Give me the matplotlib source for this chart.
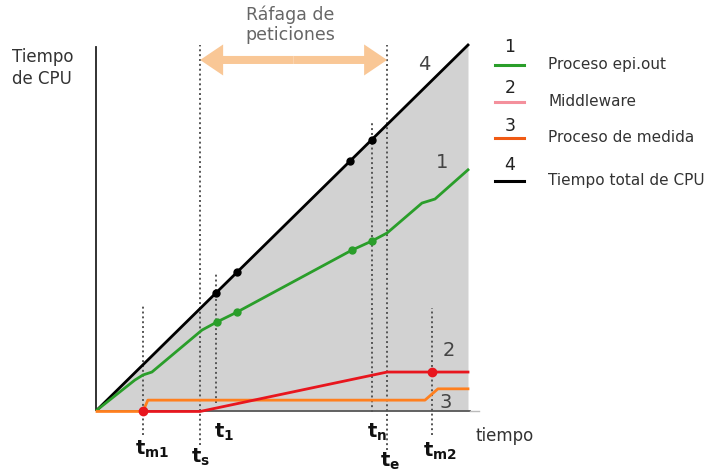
import matplotlib
matplotlib.use("Agg")
import matplotlib.pyplot as plt
from matplotlib.lines import Line2D
from matplotlib.patches import FancyArrow

# time marks along the axis
MARK_LABELS = ["m1", "s", "1", "n", "e", "m2"]
MARK_TIMES = [1.24, 2.78, 3.21, 7.41, 7.82, 9.03]

# 4: total CPU time
TOTAL_T = [0, 10]
TOTAL_CPU = [0, 10]
TOTAL_DOT_T = [3.21, 3.77, 6.82, 7.41]

# 1: epi.out process
EPI_T = [0, 1.02, 1.24, 1.48, 2.83, 3.23, 3.77, 6.87, 7.41, 7.82, 8.76, 9.11, 10]
EPI_CPU = [0, 0.82, 0.96, 1.04, 2.19, 2.41, 2.68, 4.38, 4.63, 4.85, 5.67, 5.78, 6.58]
EPI_DOT_T = [3.23, 3.77, 6.87, 7.41]
EPI_DOT_CPU = [2.41, 2.68, 4.38, 4.63]

# 2: middleware
MW_T = [1.24, 2.78, 7.82, 10]
MW_CPU = [-0.04, -0.04, 1.04, 1.04]
MW_DOT_T = [1.24, 9.03]
MW_DOT_CPU = [-0.04, 1.04]

# 3: measuring process
MEAS_T = [0, 1.24, 1.37, 8.84, 9.19, 10]
MEAS_CPU = [-0.04, -0.04, 0.27, 0.27, 0.58, 0.58]

LEGEND_NUMS = ["1", "2", "3", "4"]
LEGEND_LABELS = ["Proceso epi.out", "Middleware", "Proceso de medida",
                 "Tiempo total de CPU"]

GREEN = "#2a9e2a"
RED = "#e8161e"
ORANGE = "#ff7f1e"
GRAY_TXT = "#444444"
W, H = 715, 475


def fx(px):
    return px / W


def fy(py):
    return 1 - py / H


fig = plt.figure(figsize=(7.15, 4.75), dpi=100)
ax = fig.add_axes([fx(97), fy(410), (468 - 97) / W, (410 - 45) / H])
ax.set_xlim(0, 10)
ax.set_ylim(0, 10)
ax.axis("off")

# gray area under total CPU
ax.fill_between(TOTAL_T, 0, TOTAL_CPU, color="#d2d2d2", lw=0, zorder=1)

# axes
ax.plot([-0.03, -0.03], [0, 9.95], color="#222222", lw=1.3, clip_on=False, zorder=3)
ax.plot([0, 10.05], [-0.03, -0.03], color="#555555", lw=1.3, clip_on=False, zorder=2)
ax.plot([10.05, 10.3], [-0.03, -0.03], color="#bbbbbb", lw=1.0, clip_on=False, zorder=2)

# dotted guides
guide_top = [2.88, 10.0, 3.75, 7.89, 10.0, 2.79]
guide_bot = [-0.68, -0.96, 0.19, -0.05, -1.10, -0.68]
for t, top, bot in zip(MARK_TIMES, guide_top, guide_bot):
    ax.plot([t, t], [bot, top], color="#555555", lw=1.4, ls=(0, (1, 1.5)),
            clip_on=False, zorder=4)

# curves
ax.plot(TOTAL_T, TOTAL_CPU, color="black", lw=2, clip_on=False, zorder=5)
ax.plot(TOTAL_DOT_T, TOTAL_DOT_T, "o", color="black", ms=5, clip_on=False, zorder=6)
ax.plot(EPI_T, EPI_CPU, color=GREEN, lw=2, clip_on=False, zorder=5)
ax.plot(EPI_DOT_T, EPI_DOT_CPU, "o", color=GREEN, ms=5, clip_on=False, zorder=6)
ax.plot(MEAS_T, MEAS_CPU, color=ORANGE, lw=2, clip_on=False, zorder=5)
ax.plot(MW_T, MW_CPU, color=RED, lw=2, clip_on=False, zorder=5)
ax.plot(MW_DOT_T, MW_DOT_CPU, "o", color=RED, ms=6, clip_on=False, zorder=6)

# burst arrow
mid = (MARK_TIMES[1] + MARK_TIMES[4]) / 2
for end in (MARK_TIMES[1], MARK_TIMES[4]):
    ax.add_patch(FancyArrow(mid, 9.59, end - mid, 0, width=0.22, head_width=0.85,
                            head_length=0.62, length_includes_head=True,
                            color="#f9c796", lw=0, clip_on=False, zorder=4))

# curve numbers
for txt, px, py in [("4", 424, 64), ("1", 442, 163), ("2", 449, 351), ("3", 446, 403)]:
    fig.text(fx(px), fy(py), txt, fontsize=14, color=GRAY_TXT, ha="center", va="center")

# time labels
label_pos = [(135, 455), (191, 463), (214, 438), (367, 438), (380, 467), (423, 457)]
for lab, (px, py) in zip(MARK_LABELS, label_pos):
    fig.text(fx(px), fy(py), r"$\mathbf{t}_{\mathbf{" + lab + "}}$", fontsize=14,
             ha="left", va="baseline", color="#111111")

fig.text(fx(290), fy(25), "Ráfaga de\npeticiones", fontsize=12.5, color="#666666",
         ha="center", va="center", linespacing=1.15)
fig.text(fx(12), fy(68), "Tiempo\nde CPU", fontsize=12, color="#333333",
         ha="left", va="center", linespacing=1.25)
fig.text(fx(475), fy(436), "tiempo", fontsize=12, color="#333333",
         ha="left", va="center")

# legend
legend_colors = [GREEN, "#f4909c", "#f05a14", "black"]
num_y = [47, 88, 126, 165]
line_y = [65, 102, 138, 181]
for num, lab, col, ny, ly in zip(LEGEND_NUMS, LEGEND_LABELS, legend_colors, num_y, line_y):
    fig.text(fx(510), fy(ny), num, fontsize=12.5, color="#222222", ha="center", va="center")
    fig.add_artist(Line2D([fx(495), fx(524)], [fy(ly), fy(ly)], color=col, lw=2.2))
    fig.text(fx(548), fy(ly), lab, fontsize=11, color="#333333", ha="left", va="center")

fig.savefig("out.png", dpi=100)
